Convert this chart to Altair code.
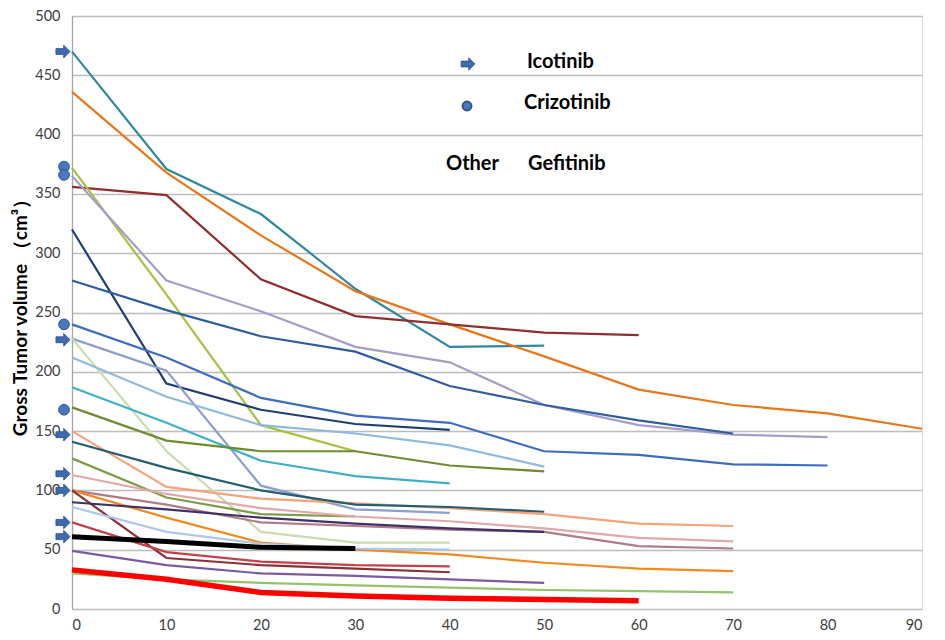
import altair as alt
import pandas as pd

days = [0, 10, 20, 30, 40, 50, 60, 70, 80, 90]

series_names = [f"s{i:02d}" for i in range(1, 28)]
series_values = [
    [470, 371, 333, 270, 221, 222],
    [436, 368, 315, 268, 240, 213, 185, 172, 165, 152],
    [356, 349, 278, 247, 240, 233, 231],
    [372, 265, 155, 133],
    [365, 277, 251, 221, 208, 172, 155, 147, 145],
    [320, 190, 168, 156, 151],
    [277, 252, 230, 217, 188, 172, 159, 148],
    [240, 212, 178, 163, 157, 133, 130, 122, 121],
    [228, 201, 104, 84, 81],
    [228, 133, 65, 56, 56],
    [212, 179, 155, 148, 138, 120],
    [187, 157, 125, 112, 106],
    [170, 142, 133, 133, 121, 116],
    [150, 103, 93, 89, 85, 80, 72, 70],
    [141, 119, 100, 88, 86, 82],
    [127, 94, 80, 78],
    [113, 97, 85, 78, 74, 68, 60, 57],
    [100, 88, 73, 70, 67, 65, 53, 51],
    [100, 77, 56, 50, 46, 39, 34, 32],
    [100, 43, 37, 34, 31],
    [90, 84, 77, 72, 68, 65],
    [86, 65, 55, 51, 50],
    [73, 48, 40, 37, 36],
    [61, 57, 52, 51],
    [49, 37, 30, 28, 25, 22],
    [30, 25, 22, 20, 18, 16, 15, 14],
    [33, 25, 14, 11, 9, 8, 7],
]
series_colors = [
    "#31899E", "#E8771A", "#8E2F2D", "#A5C23F", "#A79DC8", "#1F3F73",
    "#2F5E9E", "#3C6DC0", "#8C9ECB", "#C9DDAE", "#8DBADD", "#3FB0C8",
    "#6F8B2E", "#F6A37C", "#245F70", "#7F9A48", "#E2A9A8", "#B07A86",
    "#F28A1E", "#8C3033", "#403068", "#AFC7E8", "#C3414A", "#000000",
    "#7B59A3", "#93C36A", "#FF0000",
]
series_widths = [2.2] * 27
series_widths[23] = 5
series_widths[26] = 5.5

icotinib_volumes = [470, 227, 147, 114, 100, 73, 61]
crizotinib_volumes = [373, 366, 240, 168]

y_ticks = list(range(0, 501, 50))
x_ticks = days

rows = []
for name, vals, w in zip(series_names, series_values, series_widths):
    for d, v in zip(days, vals):
        rows.append({"series": name, "day": d, "volume": v, "w": w})
df = pd.DataFrame(rows)

thin_df = df[df["w"] < 3]
black_df = df[df["series"] == "s24"]
red_df = df[df["series"] == "s27"]

color_scale = alt.Scale(domain=series_names, range=series_colors)

x_enc = alt.X("day:Q", scale=alt.Scale(domain=[0, 90], nice=False),
              axis=alt.Axis(values=x_ticks, grid=False, ticks=False, domain=False,
                            labelPadding=9, labelFontSize=14.5, labelFont="Lato",
                            labelColor="#404040", title=None))
y_enc = alt.Y("volume:Q", scale=alt.Scale(domain=[0, 500], nice=False),
              axis=alt.Axis(values=y_ticks, grid=True, gridColor="#BDBDBD", gridWidth=1.3,
                            domainColor="#A6A6A6", domainWidth=1.3, ticks=False,
                            labelPadding=12, labelFontSize=14.5, labelFont="Lato",
                            labelColor="#404040",
                            title="Gross Tumor volume （cm³）", titleFont="Lato",
                            titleFontSize=19, titleFontWeight="bold", titleColor="#000000",
                            titlePadding=4))

thin = alt.Chart(thin_df).mark_line(strokeWidth=2.2).encode(
    x=x_enc, y=y_enc,
    color=alt.Color("series:N", scale=color_scale, legend=None),
)
black = alt.Chart(black_df).mark_line(strokeWidth=5).encode(
    x="day:Q", y="volume:Q",
    color=alt.Color("series:N", scale=color_scale, legend=None),
)
red = alt.Chart(red_df).mark_line(strokeWidth=5.5).encode(
    x="day:Q", y="volume:Q",
    color=alt.Color("series:N", scale=color_scale, legend=None),
)

arrow_path = "M-1,-0.42L0.1,-0.42L0.1,-0.9L1,0L0.1,0.9L0.1,0.42L-1,0.42Z"

ico_df = pd.DataFrame({"day": [0] * len(icotinib_volumes), "volume": icotinib_volumes})
cri_df = pd.DataFrame({"day": [0] * len(crizotinib_volumes), "volume": crizotinib_volumes})

ico = alt.Chart(ico_df).mark_point(shape=arrow_path, filled=True, size=200, xOffset=-9,
                                   color="#3D6AB0", stroke="#2C4F86", strokeWidth=0.8,
                                   opacity=1).encode(x="day:Q", y="volume:Q")
cri = alt.Chart(cri_df).mark_point(shape="circle", filled=True, size=115, xOffset=-8,
                                   color="#4A78BE", stroke="#2F558F", strokeWidth=1,
                                   opacity=1).encode(x="day:Q", y="volume:Q")

legend_df = pd.DataFrame({"k": [0]})
leg_arrow = alt.Chart(legend_df).mark_point(shape=arrow_path, filled=True, size=190,
                                            color="#3D6AB0", stroke="#2C4F86",
                                            strokeWidth=0.8, opacity=1).encode(
    x=alt.value(396), y=alt.value(48))
leg_circle = alt.Chart(legend_df).mark_point(shape="circle", filled=True, size=80,
                                             color="#4A78BE", stroke="#2F558F",
                                             opacity=1).encode(
    x=alt.value(395), y=alt.value(90))
txt_style = dict(font="Lato", fontSize=20, fontWeight="bold", color="#000000",
                 align="left", baseline="middle")
leg_t1 = alt.Chart(legend_df).mark_text(text="Icotinib", **txt_style).encode(
    x=alt.value(455), y=alt.value(46))
leg_t2 = alt.Chart(legend_df).mark_text(text="Crizotinib", **txt_style).encode(
    x=alt.value(452), y=alt.value(87))
leg_t3 = alt.Chart(legend_df).mark_text(text="Other", **txt_style).encode(
    x=alt.value(374), y=alt.value(148))
leg_t4 = alt.Chart(legend_df).mark_text(text="Gefitinib", **txt_style).encode(
    x=alt.value(456), y=alt.value(148))

chart = alt.layer(thin, black, red, ico, cri, leg_arrow, leg_circle,
                  leg_t1, leg_t2, leg_t3, leg_t4).properties(
    width=850, height=593,
    padding={"left": 3, "top": 0, "right": 5, "bottom": 0},
).configure_view(stroke=None).configure(background="#FFFFFF")

chart.save("out.html", embed_options={"renderer": "svg", "actions": False})
